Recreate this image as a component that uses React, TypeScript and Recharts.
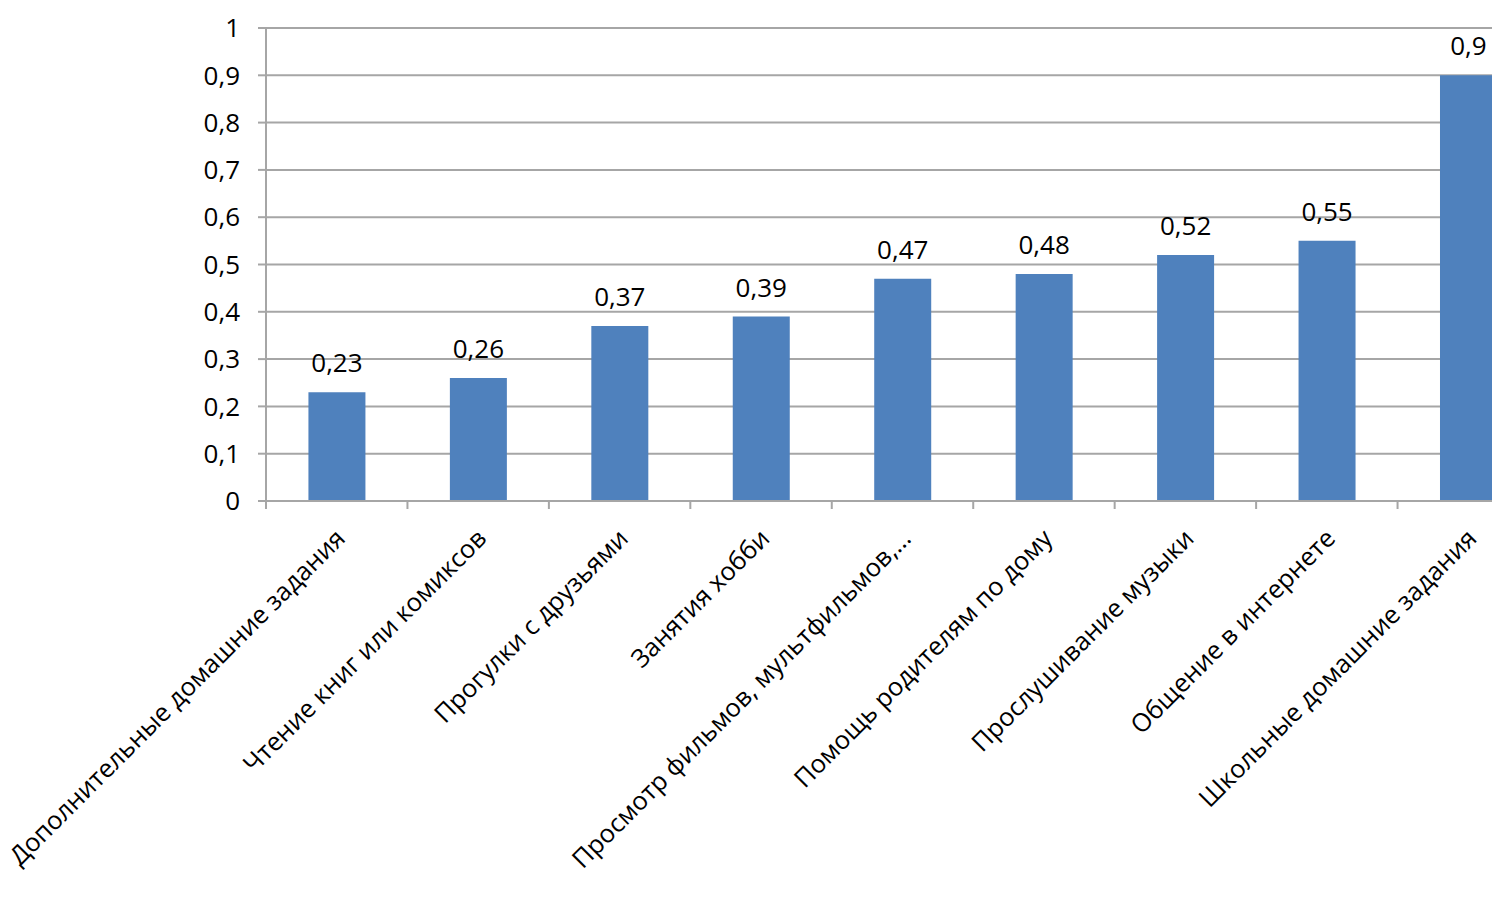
import { BarChart, Bar, XAxis, YAxis, CartesianGrid, LabelList } from 'recharts';

const categories = [
    'Дополнительные домашние задания',
    'Чтение книг или комиксов',
    'Прогулки с друзьями',
    'Занятия хобби',
    'Просмотр фильмов, мультфильмов,…',
    'Помощь родителям по дому',
    'Прослушивание музыки',
    'Общение в интернете',
    'Школьные домашние задания',
];

const values = [0.23, 0.26, 0.37, 0.39, 0.47, 0.48, 0.52, 0.55, 0.9];

const yTicks = [0, 0.1, 0.2, 0.3, 0.4, 0.5, 0.6, 0.7, 0.8, 0.9, 1];

const data = categories.map((name, i) => ({ name, value: values[i] }));

const FONT = '"Open Sans", sans-serif';
const GRAY = '#A6A6A6';

const fmt = (v: number) => String(v).replace('.', ',');

const CategoryTick = (props: any) => {
    const { x, y, payload } = props;
    const off = payload.offset || 0;
    const ax = x + 10;
    const ay = y + 39;
    return (
        <g>
            <line x1={x - off} y1={y} x2={x - off} y2={y + 8} stroke={GRAY} strokeWidth={2} />
            <text
                x={ax}
                y={ay}
                textAnchor="end"
                transform={`rotate(-45 ${ax} ${ay})`}
                fontSize={25.4}
                fontFamily={FONT}
                fill="#000"
            >
                {payload.value}
            </text>
        </g>
    );
};

const App = () => {
    return (
        <div style={{ position: 'absolute', left: 0, top: 0, width: 1492, height: 905, overflow: 'hidden', background: '#fff' }}>
            <BarChart
                width={1540}
                height={905}
                data={data}
                margin={{ top: 28, right: 1, left: 0, bottom: 0 }}
                barCategoryGap="30%"
            >
                <CartesianGrid vertical={false} stroke={GRAY} strokeWidth={2} />
                <XAxis
                    dataKey="name"
                    height={404}
                    interval={0}
                    tickLine={false}
                    tickSize={0}
                    tickMargin={0}
                    axisLine={{ stroke: GRAY, strokeWidth: 2 }}
                    tick={<CategoryTick />}
                />
                <YAxis
                    width={266}
                    domain={[0, 1]}
                    ticks={yTicks}
                    interval={0}
                    tickFormatter={fmt}
                    tickSize={8}
                    tickMargin={18}
                    tickLine={{ stroke: GRAY, strokeWidth: 2 }}
                    axisLine={{ stroke: GRAY, strokeWidth: 2 }}
                    tick={{ fill: '#000', fontSize: 26, fontFamily: FONT }}
                />
                <Bar dataKey="value" fill="#4F81BD" isAnimationActive={false}>
                    <LabelList
                        dataKey="value"
                        position="top"
                        offset={20}
                        formatter={(v: any) => fmt(v)}
                        style={{ fill: '#000', fontSize: 26, fontFamily: FONT }}
                    />
                </Bar>
            </BarChart>
        </div>
    );
};

export default App;
